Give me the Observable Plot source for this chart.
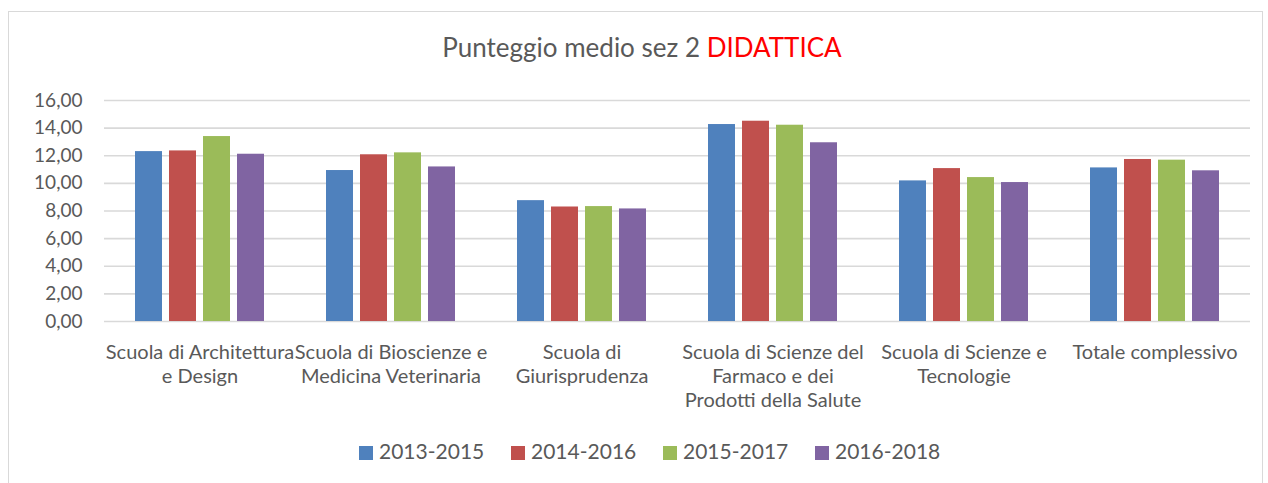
<!DOCTYPE html>
<html><head><meta charset="utf-8">
<script src="https://cdn.jsdelivr.net/npm/d3@7"></script>
<script src="https://cdn.jsdelivr.net/npm/@observablehq/plot@0.6"></script>
<style>
body{margin:0;background:#fff;font-family:Lato,"Open Sans",sans-serif;width:1268px;height:483px;overflow:hidden;position:relative;}
#frame{position:absolute;left:8px;top:11px;width:1255px;height:490px;border:1px solid #d9d9d9;box-sizing:border-box;}
#title{position:absolute;left:8px;top:31px;width:1268px;text-align:center;font-size:26px;color:#595959;}
#title span{color:#ff0000;}
#chart{position:absolute;left:0;top:0;}
#legend{position:absolute;top:438px;left:359px;white-space:nowrap;font-size:21px;color:#595959;}
#legend .item{display:inline-block;width:152px;}
#legend .sw{display:inline-block;width:14px;height:14px;margin-right:6px;vertical-align:-1px;}
</style></head>
<body>
<div id="frame"></div>
<div id="title">Punteggio medio sez 2 <span>DIDATTICA</span></div>
<div id="chart"></div>
<div id="legend"></div>
<script>
const categories = ["Scuola di Architettura e Design","Scuola di Bioscienze e Medicina Veterinaria","Scuola di Giurisprudenza","Scuola di Scienze del Farmaco e dei Prodotti della Salute","Scuola di Scienze e Tecnologie","Totale complessivo"];
const categoryLabels = ["Scuola di Architettura\ne Design","Scuola di Bioscienze e\nMedicina Veterinaria","Scuola di\nGiurisprudenza","Scuola di Scienze del\nFarmaco e dei\nProdotti della Salute","Scuola di Scienze e\nTecnologie","Totale complessivo"];
const series = ["2013-2015","2014-2016","2015-2017","2016-2018"];
const colors = ["#4F81BD","#C0504D","#9BBB59","#8064A2"];
const v2013_2015 = [12.30,10.93,8.75,14.26,10.18,11.12];
const v2014_2016 = [12.35,12.07,8.29,14.50,11.07,11.73];
const v2015_2017 = [13.39,12.21,8.32,14.21,10.42,11.68];
const v2016_2018 = [12.11,11.19,8.15,12.94,10.06,10.91];
const yTicks = [0,2,4,6,8,10,12,14,16];

const valuesBySeries = [v2013_2015,v2014_2016,v2015_2017,v2016_2018];
const rows = [];
series.forEach((s,i)=>categories.forEach((c,j)=>rows.push({category:c,series:s,value:valuesBySeries[i][j]})));
const labelRows = categories.map((c,i)=>({category:c,label:categoryLabels[i]}));

const chart = Plot.plot({
  width:1268, height:420,
  marginTop:100, marginBottom:99, marginLeft:103, marginRight:18,
  style:{fontFamily:"Lato, 'Open Sans', sans-serif", fontSize:"19px", color:"#595959", background:"transparent"},
  fx:{domain:categories, padding:0, axis:null, label:null},
  x:{domain:series, paddingInner:0.2, paddingOuter:0.831, axis:null, label:null},
  y:{domain:[0,16], ticks:yTicks, tickFormat:d=>d.toFixed(2).replace(".",","), tickSize:0, tickPadding:22, label:null},
  color:{domain:series, range:colors},
  marks:[
    Plot.ruleY(yTicks,{stroke:"#d9d9d9",strokeWidth:1.6}),
    Plot.barY(rows,{fx:"category", x:"series", y:"value", fill:"series"}),
    Plot.text(labelRows,{fx:"category", text:"label", frameAnchor:"bottom", lineAnchor:"top", dy:20, lineHeight:1.2, fontSize:20, fill:"#595959"})
  ]
});
document.getElementById("chart").appendChild(chart);

const leg = document.getElementById("legend");
series.forEach((s,i)=>{
  const it = document.createElement("span"); it.className="item";
  const sw = document.createElement("span"); sw.className="sw"; sw.style.background=colors[i];
  it.appendChild(sw); it.appendChild(document.createTextNode(s)); leg.appendChild(it);
});
</script>
</body></html>
